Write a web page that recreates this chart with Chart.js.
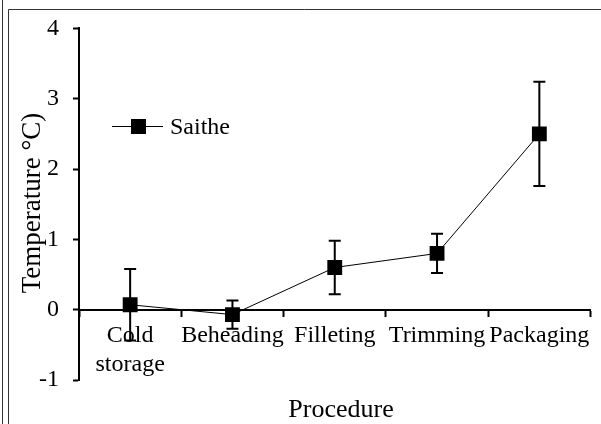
<!DOCTYPE html>
<html>
<head>
<meta charset="utf-8">
<script src="https://cdn.jsdelivr.net/npm/chart.js@4"></script>
<style>
  html, body { margin: 0; padding: 0; background: #fff; }
  #wrap { position: relative; width: 601px; height: 424px; }
</style>
</head>
<body>
<div id="wrap"><canvas id="c" width="601" height="424"></canvas></div>
<script>
// Processing steps and mean temperature (°C) with its spread
const categories = [['Cold', 'storage'], 'Beheading', 'Filleting', 'Trimming', 'Packaging'];
const temperatures = [0.07, -0.07, 0.60, 0.80, 2.50];
const errors = [0.51, 0.20, 0.38, 0.28, 0.74];
const seriesName = 'Saithe';
const yTicks = [-1, 0, 1, 2, 3, 4];
const xTitle = 'Procedure';
const yTitle = 'Temperature °C)';

const SERIF = '"Liberation Serif", "Times New Roman", serif';

// Vertical error bars with end caps, behind the markers
const errorBars = {
  id: 'errorBars',
  beforeDatasetsDraw(chart) {
    const ctx = chart.ctx;
    const xs = chart.scales.x, ys = chart.scales.y;
    ctx.save();
    ctx.strokeStyle = '#000';
    ctx.lineWidth = 2;
    temperatures.forEach((v, i) => {
      const x = xs.getPixelForValue(i);
      const top = ys.getPixelForValue(v + errors[i]);
      const bot = ys.getPixelForValue(v - errors[i]);
      ctx.beginPath();
      ctx.moveTo(x, top); ctx.lineTo(x, bot);
      ctx.moveTo(x - 6, top); ctx.lineTo(x + 6, top);
      ctx.moveTo(x - 6, bot); ctx.lineTo(x + 6, bot);
      ctx.stroke();
    });
    ctx.restore();
  }
};

// Axis titles, inline legend and the outer frame
const decorations = {
  id: 'decorations',
  afterDraw(chart) {
    const ctx = chart.ctx;
    ctx.save();
    // frame
    ctx.strokeStyle = '#333';
    ctx.lineWidth = 1;
    ctx.beginPath();
    ctx.moveTo(2.5, 0); ctx.lineTo(2.5, 424);
    ctx.moveTo(8.5, 424); ctx.lineTo(8.5, 9.5); ctx.lineTo(601, 9.5);
    ctx.stroke();

    ctx.fillStyle = '#000';
    // x title
    ctx.font = '26px ' + SERIF;
    ctx.textAlign = 'center';
    ctx.textBaseline = 'alphabetic';
    ctx.fillText(xTitle, 341, 417);
    // y title
    ctx.save();
    ctx.font = '27px ' + SERIF;
    ctx.translate(40, 203);
    ctx.rotate(-Math.PI / 2);
    ctx.fillText(yTitle, 0, 0);
    ctx.restore();

    // legend
    const ds = chart.data.datasets[0];
    ctx.strokeStyle = '#000';
    ctx.lineWidth = 1;
    ctx.beginPath();
    ctx.moveTo(112, 126.5); ctx.lineTo(163, 126.5);
    ctx.stroke();
    ctx.fillRect(131, 119, 15, 15);
    ctx.font = '24px ' + SERIF;
    ctx.textAlign = 'left';
    ctx.fillText(ds.label, 170, 134);
    ctx.restore();
  }
};

new Chart(document.getElementById('c'), {
  type: 'line',
  data: {
    labels: categories,
    datasets: [{
      label: seriesName,
      data: temperatures,
      borderColor: '#000',
      borderWidth: 1,
      backgroundColor: '#000',
      pointStyle: 'rect',
      pointRadius: 10.5,
      pointBorderWidth: 0,
      pointBackgroundColor: '#000',
      tension: 0
    }]
  },
  options: {
    responsive: false,
    animation: false,
    events: [],
    layout: { padding: { left: 0, top: 25, right: 4, bottom: 44 } },
    plugins: { legend: { display: false }, tooltip: { enabled: false } },
    scales: {
      x: {
        type: 'category',
        position: { y: 0 },
        offset: true,
        grid: {
          offset: true,
          drawOnChartArea: false,
          drawTicks: true,
          tickLength: 6,
          tickWidth: 2,
          color: '#000'
        },
        border: { display: true, color: '#000', width: 2 },
        ticks: {
          color: '#000',
          font: { family: SERIF, size: 24 },
          maxRotation: 0,
          minRotation: 0,
          autoSkip: false,
          padding: 6
        }
      },
      y: {
        type: 'linear',
        min: yTicks[0],
        max: yTicks[yTicks.length - 1],
        afterFit(scale) { scale.width = 79; },
        afterBuildTicks(scale) { scale.ticks = yTicks.map(v => ({ value: v })); },
        grid: {
          drawOnChartArea: false,
          drawTicks: true,
          tickLength: 6,
          tickWidth: 2,
          color: '#000'
        },
        border: { display: true, color: '#000', width: 2 },
        ticks: {
          color: '#000',
          font: { family: SERIF, size: 24 },
          padding: 14
        }
      }
    }
  },
  plugins: [errorBars, decorations]
});
</script>
</body>
</html>
